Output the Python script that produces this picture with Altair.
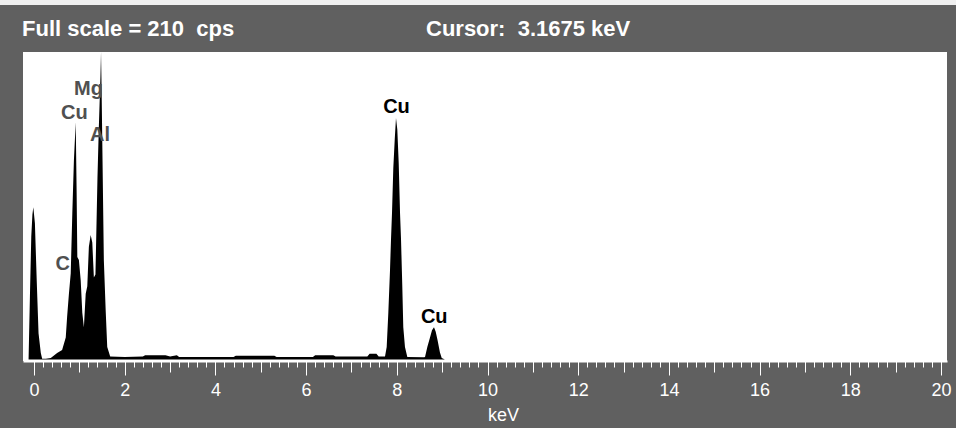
import altair as alt
import pandas as pd

# Acquisition settings shown in the header bar
FULL_SCALE_CPS = 210
CURSOR_KEV = 3.1675

# EDS spectrum: energy (keV) and count rate (cps)
spectrum_kev = [
    -0.12, -0.09, -0.06, -0.035, -0.015, 0.02, 0.06, 0.10, 0.15, 0.18,
    0.26, 0.37, 0.51, 0.62, 0.70, 0.73, 0.77, 0.81, 0.845, 0.88,
    0.92, 0.94, 0.955, 0.99, 1.03, 1.065, 1.10, 1.14, 1.175, 1.21,
    1.25, 1.285, 1.32, 1.355, 1.40, 1.43, 1.465, 1.478, 1.488, 1.506,
    1.54, 1.58, 1.615, 1.68, 2.0, 2.4, 2.45, 2.9, 3.0, 3.15,
    3.2, 4.4, 4.45, 5.3, 5.35, 6.15, 6.2, 6.6, 6.65, 7.35,
    7.4, 7.55, 7.6, 7.74, 7.777, 7.813, 7.85, 7.872, 7.894, 7.923,
    7.954, 7.982, 8.011, 8.042, 8.071, 8.093, 8.121, 8.143, 8.18, 8.232,
    8.60, 8.622, 8.673, 8.732, 8.776, 8.82, 8.858, 8.90, 8.95, 8.99,
    9.06, 20.2,
]
spectrum_cps = [
    0, 43, 84, 99, 104, 93, 54, 18, 4.5, 0.5,
    0.5, 1, 4.5, 6.5, 15, 29, 45, 59, 100, 136,
    162, 114, 70, 68, 54, 32, 22, 45, 50, 77,
    85, 80, 56, 58, 125, 159, 193, 210, 190, 148,
    68, 34, 8.5, 2, 1.8, 2, 3, 3, 2, 3,
    1.7, 1.7, 2.5, 2.5, 1.7, 1.7, 3, 3, 2, 2,
    4, 4, 2, 2, 8.5, 32, 61, 82, 100, 131,
    150, 165, 157, 134, 100, 82, 50, 22, 8.5, 1.7,
    1.5, 1.7, 8.5, 15, 20, 22, 19, 13, 5, 1,
    0, 0,
]

# Element line labels
peak_labels = ["C", "Cu", "Mg", "Al", "Cu", "Cu"]
peak_label_kev = [0.632, 0.889, 1.20, 1.455, 7.993, 8.825]
peak_label_cps = [60.8, 164.2, 180.6, 148.9, 168.3, 24.9]

# Energy axis tick positions
major_ticks = list(range(0, 21, 2))
mid_ticks = list(range(0, 21))
minor_ticks = [round(i * 0.2, 1) for i in range(101)]

spectrum = pd.DataFrame({"kev": spectrum_kev, "cps": spectrum_cps})
labels = pd.DataFrame({"kev": peak_label_kev, "cps": peak_label_cps, "label": peak_labels})

FONT = "Liberation Sans"
BG = "#606060"

x_scale = alt.Scale(domain=[-0.2426, 20.132], nice=False, zero=False)
y_scale = alt.Scale(domain=[-1, FULL_SCALE_CPS], nice=False, zero=False)

minor_axis = alt.Axis(
    orient="bottom", values=minor_ticks, tickSize=6, tickColor="white", tickWidth=1,
    labels=False, title=None, domain=True, domainColor="white", domainWidth=2, grid=False,
)
mid_axis = alt.Axis(
    orient="bottom", values=mid_ticks, tickSize=11, tickColor="white", tickWidth=1,
    labels=False, title=None, domain=False, grid=False,
)
major_axis = alt.Axis(
    orient="bottom", values=major_ticks, tickSize=14, tickColor="white", tickWidth=1,
    labelColor="white", labelFont=FONT, labelFontSize=18, labelPadding=6,
    labelFlush=False, labelOverlap=False, format="d",
    title="keV", titleColor="white", titleFont=FONT, titleFontSize=18,
    titleFontWeight="normal", titleX=480, titleY=59, titleBaseline="alphabetic",
    titleAlign="center", domain=False, grid=False,
)

one_row = alt.Data(values=[{}])

top_strip = alt.Chart(one_row).mark_rect(color="#f0f0f0").encode(
    x=alt.value(-23), x2=alt.value(933), y=alt.value(-52), y2=alt.value(-47)
)

area = alt.Chart(spectrum).mark_area(color="black", interpolate="linear").encode(
    x=alt.X("kev:Q", scale=x_scale, axis=minor_axis),
    y=alt.Y("cps:Q", scale=y_scale, axis=None),
    y2=alt.datum(0),
)

peak_text = alt.Chart(labels).mark_text(
    font=FONT, fontSize=20, fontWeight="bold", align="center", baseline="alphabetic"
).encode(
    x=alt.X("kev:Q", scale=x_scale, axis=mid_axis),
    y=alt.Y("cps:Q", scale=y_scale, axis=None),
    text="label:N",
    color=alt.condition("datum.kev < 5", alt.value("#505050"), alt.value("black")),
)

# carries the labelled energy axis
energy_axis = alt.Chart(spectrum).mark_rule(opacity=0).encode(
    x=alt.X("kev:Q", scale=x_scale, axis=major_axis),
)

header_scale = alt.Chart(one_row).mark_text(
    text=f"Full scale = {FULL_SCALE_CPS}\u00a0 cps", font=FONT, fontSize=22, fontWeight="bold",
    color="white", align="left", baseline="alphabetic",
).encode(x=alt.value(-1), y=alt.value(-16))

header_cursor = alt.Chart(one_row).mark_text(
    text=f"Cursor:\u00a0 {CURSOR_KEV:.4f} keV", font=FONT, fontSize=22, fontWeight="bold",
    color="white", align="left", baseline="alphabetic",
).encode(x=alt.value(403), y=alt.value(-16))

chart = (
    alt.layer(top_strip, area, peak_text, energy_axis, header_scale, header_cursor)
    .resolve_axis(x="independent")
    .properties(
        width=924, height=309, autosize="none", background=BG,
        padding={"left": 23, "top": 52, "right": 9, "bottom": 67},
    )
    .configure_view(fill="white", stroke=None)
)

chart.save("out.html", embed_options={"renderer": "svg", "actions": False})
